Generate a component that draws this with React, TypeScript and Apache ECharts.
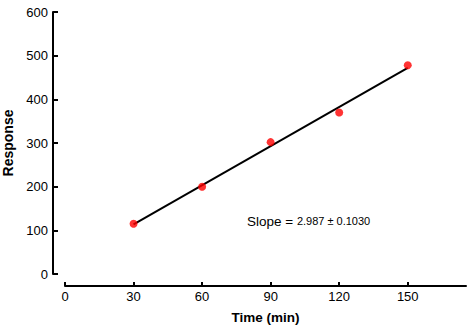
import React, { useEffect, useRef } from "react";
import * as echarts from "echarts";

const timeMin = [30, 60, 90, 120, 150];
const response = [115, 200, 302, 370, 478];
const xTicks = [0, 30, 60, 90, 120, 150];
const slopeLabel = "Slope = ";
const slopeValue = "2.987 ± 0.1030";

function fit(xs: number[], ys: number[]) {
  const n = xs.length;
  const mx = xs.reduce((a, b) => a + b, 0) / n;
  const my = ys.reduce((a, b) => a + b, 0) / n;
  let sxy = 0;
  let sxx = 0;
  for (let i = 0; i < n; i++) {
    sxy += (xs[i] - mx) * (ys[i] - my);
    sxx += (xs[i] - mx) * (xs[i] - mx);
  }
  const b = sxy / sxx;
  return { b, a: my - b * mx };
}

export default function App() {
  const ref = useRef<HTMLDivElement>(null);
  useEffect(() => {
    if (!ref.current) return;
    const chart = echarts.init(ref.current, null, { renderer: "svg" });
    const { a, b } = fit(timeMin, response);
    const x0 = timeMin[0];
    const x1 = timeMin[timeMin.length - 1];
    const font = "'Liberation Sans', Arial, sans-serif";
    chart.setOption({
      animation: false,
      backgroundColor: "#ffffff",
      grid: { left: 65, right: 5, top: 12, bottom: 60, containLabel: false, outerBoundsMode: "none" },
      xAxis: {
        type: "value",
        min: 0,
        max: 175.5,
        offset: 12,
        name: "Time (min)",
        nameLocation: "middle",
        nameGap: 24,
        nameTextStyle: { color: "#000", fontSize: 13.5, fontWeight: "bold", fontFamily: font },
        axisLine: { show: true, onZero: false, lineStyle: { color: "#000", width: 2 } },
        axisTick: { show: true, inside: true, length: 4, lineStyle: { color: "#000", width: 2 }, customValues: xTicks },
        axisLabel: { color: "#000", fontSize: 13, fontFamily: font, margin: 4, customValues: xTicks },
        splitLine: { show: false },
      },
      yAxis: {
        type: "value",
        min: 0,
        max: 600,
        interval: 100,
        offset: 12,
        name: "Response",
        nameLocation: "middle",
        nameGap: 33,
        nameTextStyle: { color: "#000", fontSize: 14, fontWeight: "bold", fontFamily: font },
        axisLine: { show: true, onZero: false, lineStyle: { color: "#000", width: 2 } },
        axisTick: { show: true, inside: true, length: 5, lineStyle: { color: "#000", width: 2 } },
        axisLabel: { color: "#000", fontSize: 13, fontFamily: font, margin: 5 },
        splitLine: { show: false },
      },
      series: [
        {
          type: "line",
          data: [
            [x0, a + b * x0],
            [x1, a + b * x1],
          ],
          showSymbol: false,
          lineStyle: { color: "#000", width: 2 },
          z: 2,
        },
        {
          type: "scatter",
          data: timeMin.map((t, i) => [t, response[i]]),
          symbolSize: 8,
          itemStyle: { color: "#ff0000" },
          z: 3,
        },
      ],
      graphic: [
        {
          type: "text",
          left: 247,
          top: 214,
          style: {
            text: "{a|" + slopeLabel + "}{b|" + slopeValue + "}",
            rich: {
              a: { fontSize: 13.5, fontFamily: font, fill: "#000" },
              b: { fontSize: 11, fontFamily: font, fill: "#000" },
            },
          },
        },
      ],
    });
    return () => chart.dispose();
  }, []);
  return <div ref={ref} style={{ width: 471, height: 334, position: "absolute", left: 0, top: 0 }} />;
}
